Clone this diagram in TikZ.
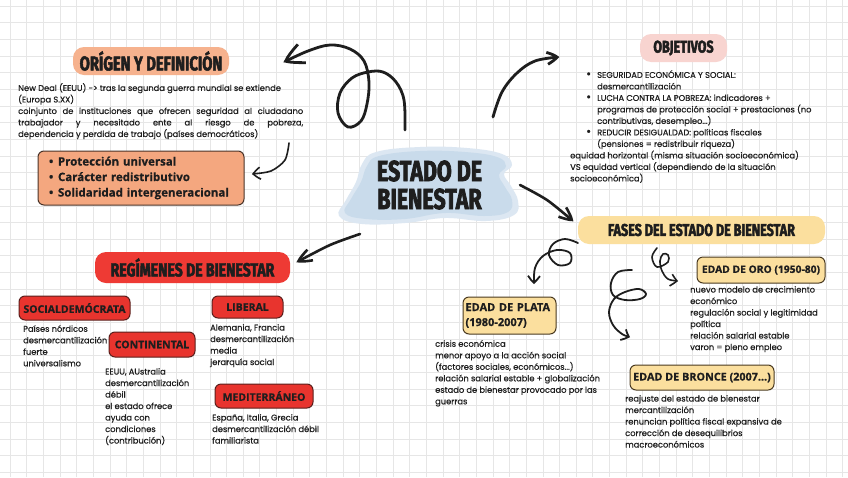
\documentclass[tikz,border=0pt]{standalone}
\usepackage{fontspec}
\setmainfont{Poppins}[UprightFeatures={FakeBold=0.6}]
\newfontfamily\headfont{Fira Sans}[FakeStretch=0.74,BoldFeatures={FakeBold=2.5}]
\newfontfamily\boxfont{Open Sans}[BoldFeatures={FakeBold=0.6}]
\usetikzlibrary{arrows.meta,bending}
\definecolor{ink}{HTML}{1E1E1E}
\definecolor{gridc}{HTML}{E6E6E6}
\definecolor{peachA}{HTML}{F6B28E}
\definecolor{peachB}{HTML}{F4A77F}
\definecolor{brownb}{HTML}{4A3328}
\definecolor{redA}{HTML}{EE3A34}
\definecolor{redB}{HTML}{E8342E}
\definecolor{redD}{HTML}{5A1F1C}
\definecolor{pinkA}{HTML}{F8D4D0}
\definecolor{yellA}{HTML}{FBDF9E}
\definecolor{yellD}{HTML}{4A3A20}
\definecolor{brush}{HTML}{C9DBEB}
\definecolor{brushL}{HTML}{DCE7F2}
\begin{document}
\begin{tikzpicture}[x=1pt,y=-1pt,
  pill/.style={rounded corners=11pt, draw=none, inner sep=0pt, text=ink},
  subbox/.style={rounded corners=6pt, line width=1pt, inner sep=0pt, text=ink},
  headtxt/.style={font=\headfont\bfseries\fontsize{#1}{#1}\selectfont},
  boxtxt/.style={font=\boxfont\bfseries\fontsize{#1}{#1}\selectfont},
  body/.style={anchor=north west, inner sep=0pt, align=left, text=ink,
    font=\fontsize{8.3}{11.5}\selectfont},
  arr/.style={draw=ink, line width=#1, line cap=round, line join=round,
    -{Straight Barb[length=6pt,width=12pt,bend]}},
  arr/.default=2.4pt,
  bigarr/.style={draw=ink, line width=2.8pt, line cap=round, line join=round,
    -{Straight Barb[length=9pt,width=20pt,bend]}}
]
\useasboundingbox (0,0) rectangle (848,477);
\fill[white] (0,0) rectangle (848,477);
\foreach \i in {0,...,51} {
  \draw[gridc, line width=0.6pt] (10+\i*16.65,0) -- (10+\i*16.65,477);
}
\foreach \j in {0,...,29} {
  \draw[gridc, line width=0.6pt] (0,6+\j*16.65) -- (848,6+\j*16.65);
}
% brush stroke behind the title
\fill[brushL] plot[smooth cycle, tension=0.7] coordinates {
  (339,216) (346,200) (356,182) (362,164) (376,152) (420,147) (467,148)
  (502,154) (512,165) (504,174) (511,186) (518,201) (514,215) (486,221)
  (445,218) (405,223) (362,224)};
\fill[brush] plot[smooth cycle, tension=0.7] coordinates {
  (345,213) (351,199) (361,182) (367,166) (379,156) (420,151) (465,152)
  (497,157) (506,166) (499,175) (505,187) (512,200) (508,212) (484,216)
  (445,213) (405,219) (366,219)};

% ---------- centre ----------
\node[headtxt=29, align=center, text=ink, inner sep=0pt] (centro) at (429.5,185)
  {ESTADO DE\\[-1pt]BIENESTAR};

% ---------- origen ----------
\node[pill, fill=peachA, minimum width=156pt, minimum height=28pt, headtxt=20]
  (origen) at (151,61) {ORÍGEN Y DEFINICIÓN};
\node[body] (origentxt) at (18,83) {New Deal (EEUU) -> tras la segunda guerra mundial se extiende\\
(Europa S.XX)\\
\makebox[285pt][s]{coinjunto de instituciones que ofrecen seguridad al ciudadano}\\
\makebox[285pt][s]{trabajador y necesitado ente al riesgo de pobreza,}\\
dependencia y perdida de trabajo (países democráticos)};
\node[subbox, fill=peachB, draw=brownb, minimum width=206pt, minimum height=54pt,
  text width=184pt, align=left, inner xsep=11pt, boxtxt=11.5] (rasgos) at (141,178)
  {\makebox[9pt][l]{•}Protección universal\\[4pt]
   \makebox[9pt][l]{•}Carácter redistributivo\\[4pt]
   \makebox[9pt][l]{•}Solidaridad intergeneracional};

% ---------- regimenes ----------
\node[pill, fill=redA, minimum width=195pt, minimum height=31pt, headtxt=19]
  (regimenes) at (192.5,267.5) {REGÍMENES DE BIENESTAR};
\node[subbox, fill=redB, draw=redD, minimum width=111pt, minimum height=24pt, boxtxt=10.5]
  (socdem) at (74.5,308) {SOCIALDEMÓCRATA};
\node[subbox, fill=redB, draw=redD, minimum width=86pt, minimum height=25pt, boxtxt=10.5]
  (contin) at (152,344.5) {CONTINENTAL};
\node[subbox, fill=redB, draw=redD, minimum width=71pt, minimum height=22pt, boxtxt=10.5]
  (liberal) at (247.5,307) {LIBERAL};
\node[subbox, fill=redB, draw=redD, minimum width=98pt, minimum height=24pt, boxtxt=10.5]
  (medit) at (264,396) {MEDITERRÁNEO};
\node[body] (socdemtxt) at (23,325) {Países nórdicos\\desmercantilización\\fuerte\\universalismo};
\node[body] (contintxt) at (105,368) {EEUU, AUstralia\\desmercantilización\\débil\\el estado ofrece\\ayuda con\\condiciones\\(contribución)};
\node[body] (liberaltxt) at (210,324) {Alemania, Francia\\desmercantilización\\media\\jerarquía social};
\node[body] (medittxt) at (212,414) {España, Italia, Grecia\\desmercantilización débil\\familiarista};

% ---------- objetivos ----------
\node[pill, fill=pinkA, minimum width=87pt, minimum height=28pt, headtxt=17]
  (objetivos) at (683.5,48) {OBJETIVOS};
\node[body] (objtxt) at (570,70) {%
\hspace*{16pt}\makebox[11pt][l]{\large•}SEGURIDAD ECONÓMICA Y SOCIAL:\\
\hspace*{27pt}desmercantilización\\
\hspace*{16pt}\makebox[11pt][l]{\large•}LUCHA CONTRA LA POBREZA: indicadores +\\
\hspace*{27pt}programas de protección social + prestaciones (no\\
\hspace*{27pt}contributivas, desempleo...)\\
\hspace*{16pt}\makebox[11pt][l]{\large•}REDUCIR DESIGUALDAD: políticas fiscales\\
\hspace*{27pt}(pensiones = redistribuir riqueza)\\
equidad horizontal (misma situación socioeconómica)\\
VS equidad vertical (dependiendo de la situación\\
socioeconómica)};

% ---------- fases ----------
\node[pill, fill=yellA, minimum width=247pt, minimum height=28pt, headtxt=17]
  (fases) at (701.5,230) {FASES DEL ESTADO DE BIENESTAR};
\node[subbox, fill=yellA, draw=yellD, minimum width=128pt, minimum height=26pt, boxtxt=10.3]
  (oro) at (761,270) {EDAD DE ORO (1950-80)};
\node[subbox, fill=yellA, draw=yellD, minimum width=93pt, minimum height=37pt,
  text width=88pt, inner xsep=2.5pt, align=left, font=\boxfont\bfseries\fontsize{11}{15}\selectfont]
  (plata) at (509.5,315.5) {\mbox{EDAD DE PLATA}\\\mbox{(1980-2007)}};
\node[subbox, fill=yellA, draw=yellD, minimum width=144pt, minimum height=25pt, boxtxt=10.8]
  (bronce) at (702,377.5) {EDAD DE BRONCE (2007...)};
\node[body] (orotxt) at (690,286) {nuevo modelo de crecimiento\\económico\\regulación social y legitimidad\\política\\relación salarial estable\\varon = pleno empleo};
\node[body] (platatxt) at (435,340) {crisis económica\\menor apoyo a la acción social\\(factores sociales, económicos...)\\relación salarial estable + globalización\\estado de bienestar provocado por las\\guerras};
\node[body] (broncetxt) at (625,395) {reajuste del estado de bienestar\\mercantilización\\renuncian política fiscal expansiva de\\corrección de desequilibrios\\macroeconómicos};

% ---------- connectors ----------
\coordinate (tOrig) at (405,130);  \coordinate (hOrig) at (284,62);
\coordinate (tObj) at (493,117);   \coordinate (hObj) at (559,57);
\coordinate (tFas) at (520,185);   \coordinate (hFas) at (573,221);
\coordinate (tReg) at (360,234);   \coordinate (hReg) at (297,262);
\coordinate (tRas) at (289,143);   \coordinate (hRas) at (252,174);
\coordinate (tPla) at (578,243);   \coordinate (hPla) at (534,284);
\coordinate (tOro) at (657,248);   \coordinate (hOro) at (678,281);
\coordinate (tBro) at (632,270);   \coordinate (hBro) at (630,337);

\draw[bigarr] plot[smooth, tension=0.6] coordinates {(tOrig) (404,100) (396,82) (383,72)
  (368,72) (352,78) (340,93) (338,113) (348,127) (361,121) (367,104) (369,82) (364,61)
  (350,49) (330,45) (308,51) (hOrig)};
\draw[arr=2.8pt] plot[smooth, tension=0.6] coordinates {(tObj) (502,92) (517,73) (535,61) (hObj)};
\draw[arr=2.6pt] plot[smooth] coordinates {(tFas) (547,200) (hFas)};
\draw[arr=2.6pt] plot[smooth] coordinates {(tReg) (330,245) (hReg)};
\draw[arr=1.6pt] plot[smooth] coordinates {(tRas) (285,160) (271,171) (hRas)};
\draw[arr=1.8pt] plot[smooth, tension=0.6] coordinates {(tPla) (565,239) (553,244) (549,255)
  (558,265) (570,263) (570,253) (557,250) (543,256) (535,268) (hPla)};
\draw[arr=1.6pt] plot[smooth, tension=0.6] coordinates {(tOro) (652,257) (657,267) (668,262)
  (668,255) (663,254) (660,261) (662,271) (668,279) (hOro)};
\draw[arr=1.8pt] plot[smooth, tension=0.6] coordinates {(tBro) (618,272) (611,283) (613,295)
  (625,300) (640,299) (646,294) (639,289) (625,292) (614,299) (609,312) (613,325)
  (622,334) (hBro)};
\end{tikzpicture}
\end{document}
